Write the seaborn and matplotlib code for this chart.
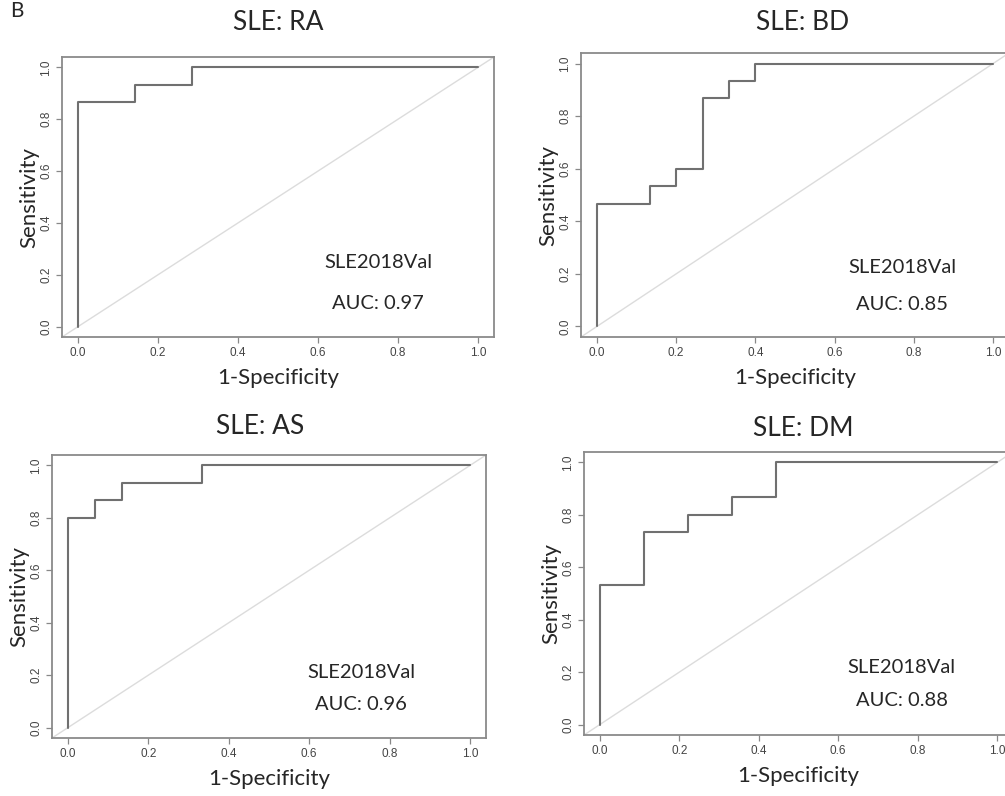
import matplotlib
matplotlib.use("Agg")
import matplotlib.pyplot as plt
import seaborn as sns
import pandas as pd

sns.set_style("white")
plt.rcParams['font.family'] = ['Lato', 'DejaVu Sans']

# ROC curve vertices (1-specificity, sensitivity)
titles = ['SLE: RA', 'SLE: BD', 'SLE: AS', 'SLE: DM']
auc_labels = ['AUC: 0.97', 'AUC: 0.85', 'AUC: 0.96', 'AUC: 0.88']
cohort = 'SLE2018Val'

fpr_ra = [0, 0, 0.143, 0.143, 0.286, 0.286, 1.0]
tpr_ra = [0, 0.867, 0.867, 0.933, 0.933, 1.0, 1.0]

fpr_bd = [0, 0, 0.133, 0.133, 0.2, 0.2, 0.267, 0.267, 0.333, 0.333, 0.4, 0.4, 1.0]
tpr_bd = [0, 0.467, 0.467, 0.533, 0.533, 0.6, 0.6, 0.867, 0.867, 0.933, 0.933, 1.0, 1.0]

fpr_as = [0, 0, 0.067, 0.067, 0.133, 0.133, 0.333, 0.333, 1.0]
tpr_as = [0, 0.8, 0.8, 0.867, 0.867, 0.933, 0.933, 1.0, 1.0]

fpr_dm = [0, 0, 0.111, 0.111, 0.222, 0.222, 0.333, 0.333, 0.444, 0.444, 1.0]
tpr_dm = [0, 0.533, 0.533, 0.733, 0.733, 0.8, 0.8, 0.867, 0.867, 1.0, 1.0]

ticks = [0.0, 0.2, 0.4, 0.6, 0.8, 1.0]

W, H = 1005, 796
fig = plt.figure(figsize=(W / 100, H / 100), dpi=100)

# box in pixels: left, top, right, bottom
boxes = [(62, 57, 494, 337), (581, 53, 1009, 337), (52, 455, 486, 738), (584, 452, 1013, 735)]
curves = [(fpr_ra, tpr_ra), (fpr_bd, tpr_bd), (fpr_as, tpr_as), (fpr_dm, tpr_dm)]
# text positions in data coords (x, y of cohort label, y of auc)
txt_pos = [(0.75, 0.248, 0.089), (0.77, 0.225, 0.084), (0.73, 0.21, 0.088), (0.76, 0.218, 0.092)]
title_y = [22, 22, 427, 428]
title_x = [278, 803, 260, 803]

for i in range(4):
    l, t, r, b = boxes[i]
    ax = fig.add_axes([l / W, 1 - b / H, (r - l) / W, (b - t) / H])
    fpr, tpr = curves[i]
    df = pd.DataFrame({'fpr': fpr, 'tpr': tpr})
    ax.plot([-0.1, 1.1], [-0.1, 1.1], color='#dcdcdc', lw=1.0, zorder=1)
    sns.lineplot(data=df, x='fpr', y='tpr', sort=False, estimator=None,
                 color='#707070', lw=1.5, ax=ax, zorder=2)
    ax.set_xlim(-0.04, 1.04)
    ax.set_ylim(-0.04, 1.04)
    ax.set_xticks(ticks)
    ax.set_yticks(ticks)
    ax.set_xticklabels([f'{v:.1f}' for v in ticks], fontsize=8.5, color='#444444',
                       family='Liberation Sans')
    ax.set_yticklabels([f'{v:.1f}' for v in ticks], fontsize=8.5, color='#444444',
                       rotation=90, va='center', family='Liberation Sans')
    ax.tick_params(axis='both', direction='out', length=4, width=0.9, color='#888888',
                   bottom=True, left=True, pad=3)
    for s in ax.spines.values():
        s.set_color('#8a8a8a')
        s.set_linewidth(1.3)
    ax.set_xlabel('1-Specificity', fontsize=16, labelpad=7)
    ax.set_ylabel('Sensitivity', fontsize=16, labelpad=1)
    tx, ty1, ty2 = txt_pos[i]
    ax.text(tx, ty1, cohort, fontsize=14.5, ha='center', va='center')
    ax.text(tx, ty2, auc_labels[i], fontsize=14.5, ha='center', va='center')
    fig.text(title_x[i] / W, 1 - title_y[i] / H, titles[i], fontsize=19,
             ha='center', va='center')

fig.text(10 / W, 1 - 1 / H, 'B', fontsize=15, ha='left', va='top')

fig.savefig('out.png', dpi=100)
